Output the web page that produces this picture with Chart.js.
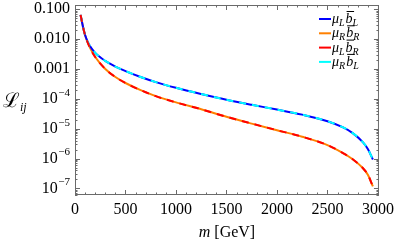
<!DOCTYPE html>
<html>
<head>
<meta charset="utf-8">
<script src="https://cdn.jsdelivr.net/npm/chart.js@4.4.1/dist/chart.umd.min.js"></script>
<style>
  html, body { margin: 0; padding: 0; background: #fff; }
  #wrap { width: 399px; height: 249px; }
</style>
</head>
<body>
<div id="wrap"><canvas id="c"></canvas></div>
<script>
// invariant mass m [GeV]
const masses = [55, 80, 100, 125, 150, 200, 300, 400, 500, 650, 800, 1000, 1250,
  1500, 1750, 2000, 2250, 2500, 2650, 2750, 2850, 2900, 2950];
// mu_L bbar_L and mu_R bbar_L (same curve)
const lumiLL = [6.5e-2, 2.51e-2, 1.38e-2, 8.3e-3, 5.75e-3, 3.47e-3, 1.86e-3, 1.2e-3, 8.5e-4,
  5.37e-4, 3.63e-4, 2.34e-4, 1.45e-4, 9.3e-5, 6.3e-5, 4.37e-5, 2.95e-5, 1.78e-5, 1.12e-5,
  7.1e-6, 3.55e-6, 2.09e-6, 9.3e-7];
const lumiRL = lumiLL.slice();
// mu_R bbar_R and mu_L bbar_R (same curve)
const lumiRR = [6.5e-2, 2.51e-2, 1.35e-2, 7.8e-3, 5.0e-3, 2.51e-3, 1.0e-3, 5.37e-4, 3.39e-4,
  1.95e-4, 1.23e-4, 7.6e-5, 4.47e-5, 2.51e-5, 1.48e-5, 8.9e-6, 5.37e-6, 2.82e-6, 1.55e-6,
  9.5e-7, 4.8e-7, 2.88e-7, 1.17e-7];
const lumiLR = lumiRR.slice();

const xTicks = [0, 500, 1000, 1500, 2000, 2500, 3000];
const yTicks = [1e-1, 1e-2, 1e-3, 1e-4, 1e-5, 1e-6, 1e-7];
const yTickLabels = ['0.100', '0.010', '0.001', '10^−4', '10^−5', '10^−6', '10^−7'];
const legendSubs = [['L', 'L'], ['R', 'R'], ['L', 'R'], ['R', 'L']];

const serif = '"Liberation Serif", "DejaVu Serif", serif';
const pts = arr => masses.map((m, i) => ({ x: m, y: arr[i] }));

const decor = {
  id: 'decor',
  beforeDatasetsDraw(chart) {
    const { ctx, chartArea: a, scales: { x, y } } = chart;
    ctx.save();
    ctx.strokeStyle = '#6a6a6a';
    ctx.lineWidth = 1;
    ctx.strokeRect(a.left + 0.5, a.top + 0.5, a.right - a.left - 1, a.bottom - a.top - 1);
    ctx.beginPath();
    for (let v = 0; v <= 3000; v += 100) {
      const px = Math.round(x.getPixelForValue(v)) + 0.5;
      const len = v % 500 === 0 ? 5 : 2.5;
      ctx.moveTo(px, a.bottom); ctx.lineTo(px, a.bottom - len);
      ctx.moveTo(px, a.top); ctx.lineTo(px, a.top + len);
    }
    for (let k = -8; k <= 0; k++) {
      for (let d = 1; d <= 9; d++) {
        const v = d * Math.pow(10, k);
        if (v < y.min || v > y.max) continue;
        const py = Math.round(y.getPixelForValue(v)) + 0.5;
        const len = d === 1 ? 5 : 2.5;
        ctx.moveTo(a.left, py); ctx.lineTo(a.left + len, py);
        ctx.moveTo(a.right, py); ctx.lineTo(a.right - len, py);
      }
    }
    ctx.stroke();

    // y tick labels
    ctx.fillStyle = '#000';
    ctx.textBaseline = 'middle';
    yTicks.forEach((v, i) => {
      const py = y.getPixelForValue(v);
      const [base, exp] = yTickLabels[i].split('^');
      const right = a.left - 5;
      ctx.textAlign = 'right';
      if (exp) {
        ctx.font = '11px ' + serif;
        ctx.fillText(exp, right, py - 6);
        const ew = ctx.measureText(exp).width;
        ctx.font = '16px ' + serif;
        ctx.fillText(base, right - ew - 0.5, py);
      } else {
        ctx.font = '16px ' + serif;
        ctx.fillText(base, right, py);
      }
    });

    // axis titles
    ctx.textAlign = 'left';
    ctx.textBaseline = 'alphabetic';
    ctx.font = '20px "DejaVu Serif", serif';
    ctx.fillText('ℒ', 3, 107);
    const lw = ctx.measureText('ℒ').width;
    ctx.font = 'italic 12px ' + serif;
    ctx.fillText('ij', 3 + lw, 111);

    const cx = (a.left + a.right) / 2;
    ctx.font = 'italic 16px ' + serif;
    const mW = ctx.measureText('m ').width;
    ctx.font = '16px ' + serif;
    const gW = ctx.measureText('[GeV]').width;
    const sx = cx - (mW + gW) / 2;
    ctx.font = 'italic 16px ' + serif;
    ctx.fillText('m ', sx, 237);
    ctx.font = '16px ' + serif;
    ctx.fillText('[GeV]', sx + mW, 237);
    ctx.restore();
  },
  afterDraw(chart) {
    const { ctx } = chart;
    ctx.save();
    chart.data.datasets.forEach((ds, i) => {
      const yc = 19 + i * 14.3;
      ctx.strokeStyle = ds.borderColor;
      ctx.lineWidth = 2;
      ctx.beginPath();
      ctx.moveTo(319, yc); ctx.lineTo(331, yc);
      ctx.stroke();
      const [s1, s2] = legendSubs[i];
      const base = yc + 4;
      let tx = 332;
      ctx.fillStyle = '#000';
      ctx.textBaseline = 'alphabetic';
      ctx.textAlign = 'left';
      ctx.font = 'italic 14px ' + serif;
      ctx.fillText('μ', tx, base);
      tx += ctx.measureText('μ').width;
      ctx.font = 'italic 10px ' + serif;
      ctx.fillText(s1, tx, base + 3);
      tx += ctx.measureText(s1).width + 1;
      ctx.font = 'italic 14px ' + serif;
      ctx.fillText('b', tx, base);
      const bw = ctx.measureText('b').width;
      ctx.strokeStyle = '#000';
      ctx.lineWidth = 1;
      ctx.beginPath();
      ctx.moveTo(tx + 1, base - 11.5); ctx.lineTo(tx + bw + 1.5, base - 11.5);
      ctx.stroke();
      tx += bw;
      ctx.font = 'italic 10px ' + serif;
      ctx.fillText(s2, tx, base + 3);
    });
    ctx.restore();
  }
};

new Chart(document.getElementById('c'), {
  type: 'line',
  data: {
    datasets: [
      { label: 'μLb̄L', data: pts(lumiLL), borderColor: '#0000ff', borderWidth: 2, order: 2 },
      { label: 'μRb̄R', data: pts(lumiRR), borderColor: '#ff8000', borderWidth: 2, order: 2 },
      { label: 'μLb̄R', data: pts(lumiLR), borderColor: '#ff0000', borderWidth: 2, borderDash: [7, 6], order: 1 },
      { label: 'μRb̄L', data: pts(lumiRL), borderColor: '#00ffff', borderWidth: 2, borderDash: [7, 6], order: 1 }
    ]
  },
  options: {
    responsive: true,
    maintainAspectRatio: false,
    animation: false,
    layout: { padding: { left: 0, right: 17, top: 5, bottom: 0 } },
    elements: {
      point: { radius: 0 },
      line: { cubicInterpolationMode: 'monotone', fill: false }
    },
    plugins: { legend: { display: false }, tooltip: { enabled: false } },
    scales: {
      x: {
        type: 'linear',
        min: 0,
        max: 3010,
        grid: { display: false, drawTicks: false },
        border: { display: false },
        afterBuildTicks: s => { s.ticks = xTicks.map(v => ({ value: v })); },
        afterFit: s => { s.height = 54; },
        ticks: {
          padding: 5,
          color: '#000',
          maxRotation: 0,
          font: { family: serif, size: 16 },
          callback: v => String(v)
        }
      },
      y: {
        type: 'logarithmic',
        min: 6.45e-8,
        max: 0.139,
        grid: { display: false, drawTicks: false },
        border: { display: false },
        ticks: { display: false },
        afterFit: s => { s.width = 75; }
      }
    }
  },
  plugins: [decor]
});
</script>
</body>
</html>
